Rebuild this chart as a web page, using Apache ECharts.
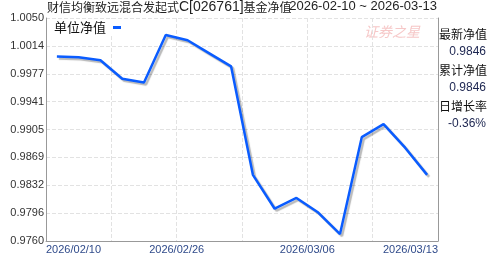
<!DOCTYPE html>
<html>
<head>
<meta charset="utf-8">
<script src="https://cdn.jsdelivr.net/npm/echarts@6/dist/echarts.min.js"></script>
<style>
html,body{margin:0;padding:0;background:#fff;}
#c{width:488px;height:255px;}
</style>
</head>
<body>
<div id="c"></div>
<script>
// ---- data ----
var dates = ['2026/02/10','2026/02/11','2026/02/12','2026/02/13','2026/02/24','2026/02/25',
  '2026/02/26','2026/02/27','2026/03/02','2026/03/03','2026/03/04','2026/03/05',
  '2026/03/06','2026/03/09','2026/03/10','2026/03/11','2026/03/12','2026/03/13'];
var navValues = [1.0000,0.9999,0.9995,0.9971,0.9966,1.0028,1.0021,1.0004,0.9987,
  0.9846,0.9802,0.9816,0.9797,0.9769,0.9895,0.9912,0.9881,0.9846];
var yTickLabels = ['0.9760','0.9796','0.9832','0.9869','0.9905','0.9941','0.9977','1.0014','1.0050'];
var yMin = 0.9760, yMax = 1.0050;
var seriesName = '单位净值';
var fundName = '财信均衡致远混合发起式';
var fundCode = 'C[026761]';
var titleSuffix = '基金净值';
var rangeText = '2026-02-10 ~ 2026-03-13';
var sideLabels = ['最新净值','累计净值','日增长率'];
var sideValues = ['0.9846','0.9846','-0.36%'];
var watermark = '证券之星';

var nSteps = yTickLabels.length - 1;
var step = (yMax - yMin) / nSteps;
var plotData = navValues.map(function(v, i){ return [i + 0.5, (v - yMin) / step]; });

var chart = echarts.init(document.getElementById('c'));
var font = '"Liberation Sans", Arial, "Noto Sans CJK SC", sans-serif';
var graphics = [
  {type:'text', left:47, top:0, style:{
    text:'{a|' + fundName + '}{b|' + fundCode + '}{a|' + titleSuffix + '}',
    rich:{
      a:{fontSize:12, fontFamily:'"Noto Sans CJK SC", sans-serif', fill:'#222', lineHeight:16},
      b:{fontSize:14, fontFamily:'"Liberation Sans", Arial, sans-serif', fill:'#222', lineHeight:16}
    }
  }},
  {type:'text', right:51, top:0, style:{text:rangeText, font:'13px "Liberation Sans", Arial, sans-serif', fill:'#222'}},
  {type:'text', left:364, top:25, style:{text:watermark, font:'italic 14px "Noto Sans CJK SC", serif', fill:'#f6c8c8', letterSpacing:3}}
];
var sideTop = [27, 45, 63, 81, 99, 117];
for (var k = 0; k < sideLabels.length; k++) {
  graphics.push({type:'text', left:439, top:sideTop[2*k]+1, style:{text:sideLabels[k], font:'12px "Noto Sans CJK SC", sans-serif', fill:'#111'}});
  graphics.push({type:'text', right:2, top:sideTop[2*k+1]+1, style:{text:sideValues[k], font:'12px "Liberation Sans", Arial, sans-serif', fill:'#1c2550', align:'right'}});
}

chart.setOption({
  animation:false,
  backgroundColor:'#fff',
  grid:{left:46, right:50, top:18, bottom:14, containLabel:false},
  legend:{
    data:[seriesName], left:50, top:19, align:'right',
    itemWidth:8, itemHeight:3, itemGap:4, padding:[2,4,2,4],
    backgroundColor:'#fff',
    icon:'rect',
    textStyle:{fontSize:13, color:'#111', fontFamily:'"Noto Sans CJK SC", sans-serif', padding:[0,2,0,0]}
  },
  xAxis:{
    type:'value', min:0, max:18, interval:3,
    axisLine:{show:true, lineStyle:{color:'#999', width:1}},
    axisTick:{show:false},
    splitLine:{show:true, lineStyle:{color:'#e2e2e2', type:'dashed'}},
    axisLabel:{
      fontSize:11, color:'#2f4a8a', fontFamily:font, margin:3,
      alignMinLabel:'left', alignMaxLabel:'right',
      formatter:function(v){ if (v % 6 !== 0) return ''; return dates[Math.min(v, dates.length-1)]; }
    }
  },
  yAxis:[{
    type:'value', min:0, max:nSteps, interval:1,
    axisLine:{show:true, lineStyle:{color:'#999', width:1}},
    axisTick:{show:false},
    splitLine:{show:true, lineStyle:{color:'#e2e2e2', type:'dashed'}},
    axisLabel:{fontSize:11, color:'#333', fontFamily:font, margin:2,
      formatter:function(v){ return yTickLabels[v]; }}
  },{
    type:'value', min:0, max:nSteps, interval:1, position:'right',
    axisLine:{show:true, lineStyle:{color:'#999', width:1}},
    axisTick:{show:false}, axisLabel:{show:false}, splitLine:{show:false}
  }],
  series:[{
    name:seriesName, type:'line', data:plotData, showSymbol:false, symbol:'none',
    lineStyle:{color:'#0a5cff', width:2.5, shadowColor:'rgba(0,0,0,0.28)', shadowOffsetX:2, shadowOffsetY:2, shadowBlur:1},
    itemStyle:{color:'#0a5cff'}
  }],
  graphic:graphics
});
</script>
</body>
</html>
